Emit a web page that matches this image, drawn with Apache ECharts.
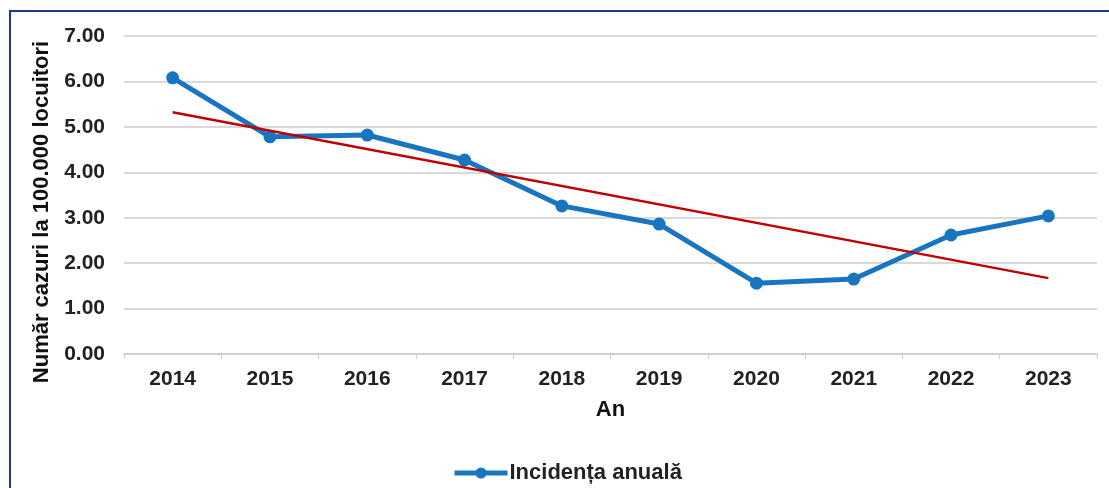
<!DOCTYPE html>
<html>
<head>
<meta charset="utf-8">
<script src="https://cdn.jsdelivr.net/npm/echarts@6/dist/echarts.min.js"></script>
<style>
html,body{margin:0;padding:0;background:#fff;width:1109px;height:488px;overflow:hidden;}
#frame{position:absolute;left:9px;top:10px;width:1110px;height:490px;border-left:2px solid #1c3a84;border-top:2px solid #1c3a84;}
#chart{position:absolute;left:0;top:0;width:1109px;height:488px;}
</style>
</head>
<body>
<div id="frame"></div>
<div id="chart"></div>
<script>
const years = ['2014','2015','2016','2017','2018','2019','2020','2021','2022','2023'];
const incidence = [6.08, 4.78, 4.82, 4.27, 3.26, 2.86, 1.56, 1.65, 2.62, 3.04];
const trend = [5.32, null, null, null, null, null, null, null, null, 1.67];
const yTicks = [0, 1, 2, 3, 4, 5, 6, 7];

const chart = echarts.init(document.getElementById('chart'));
const font = 'Liberation Sans, Arial, sans-serif';
chart.setOption({
  animation: false,
  grid: {left: 124, right: 12, top: 36, bottom: 134},
  legend: {
    top: 457, left: 447,
    data: [{name: 'Incidența anuală'}],
    itemWidth: 53, itemHeight: 14, itemGap: 4,
    lineStyle: {width: 5},
    textStyle: {fontFamily: font, fontWeight: 'bold', fontSize: 22, color: '#222', padding: [0,0,0,-3]}
  },
  xAxis: {
    type: 'category', data: years, boundaryGap: true,
    name: 'An', nameLocation: 'middle', nameGap: 45,
    nameTextStyle: {fontFamily: font, fontWeight: 'bold', fontSize: 22, color: '#111'},
    axisLine: {lineStyle: {color: '#d0d0d0', width: 2}},
    axisTick: {show: true, length: 5, lineStyle: {color: '#d0d0d0'}},
    axisLabel: {fontFamily: font, fontWeight: 'bold', fontSize: 21, color: '#222', margin: 15}
  },
  yAxis: {
    type: 'value', min: yTicks[0], max: yTicks[yTicks.length-1], interval: 1,
    name: 'Număr cazuri la 100.000 locuitori', nameLocation: 'middle', nameGap: 66,
    nameTextStyle: {fontFamily: font, fontWeight: 'bold', fontSize: 22, color: '#111', padding: [0, 34, 0, 0]},
    axisLine: {show: false}, axisTick: {show: false},
    splitLine: {lineStyle: {color: '#d9d9d9', width: 2}},
    axisLabel: {fontFamily: font, fontWeight: 'bold', fontSize: 21, color: '#222', margin: 19,
      formatter: v => v.toFixed(2)}
  },
  series: [
    {
      name: 'Incidența anuală', type: 'line', data: incidence,
      symbol: 'circle', symbolSize: 13,
      lineStyle: {color: '#1a75c0', width: 5},
      itemStyle: {color: '#1a75c0'},
      z: 3
    },
    {
      name: 'Trend', type: 'line', data: trend, connectNulls: true,
      symbol: 'none', lineStyle: {color: '#c00000', width: 2.5},
      itemStyle: {color: '#c00000'}, z: 4
    }
  ]
});
</script>
</body>
</html>
